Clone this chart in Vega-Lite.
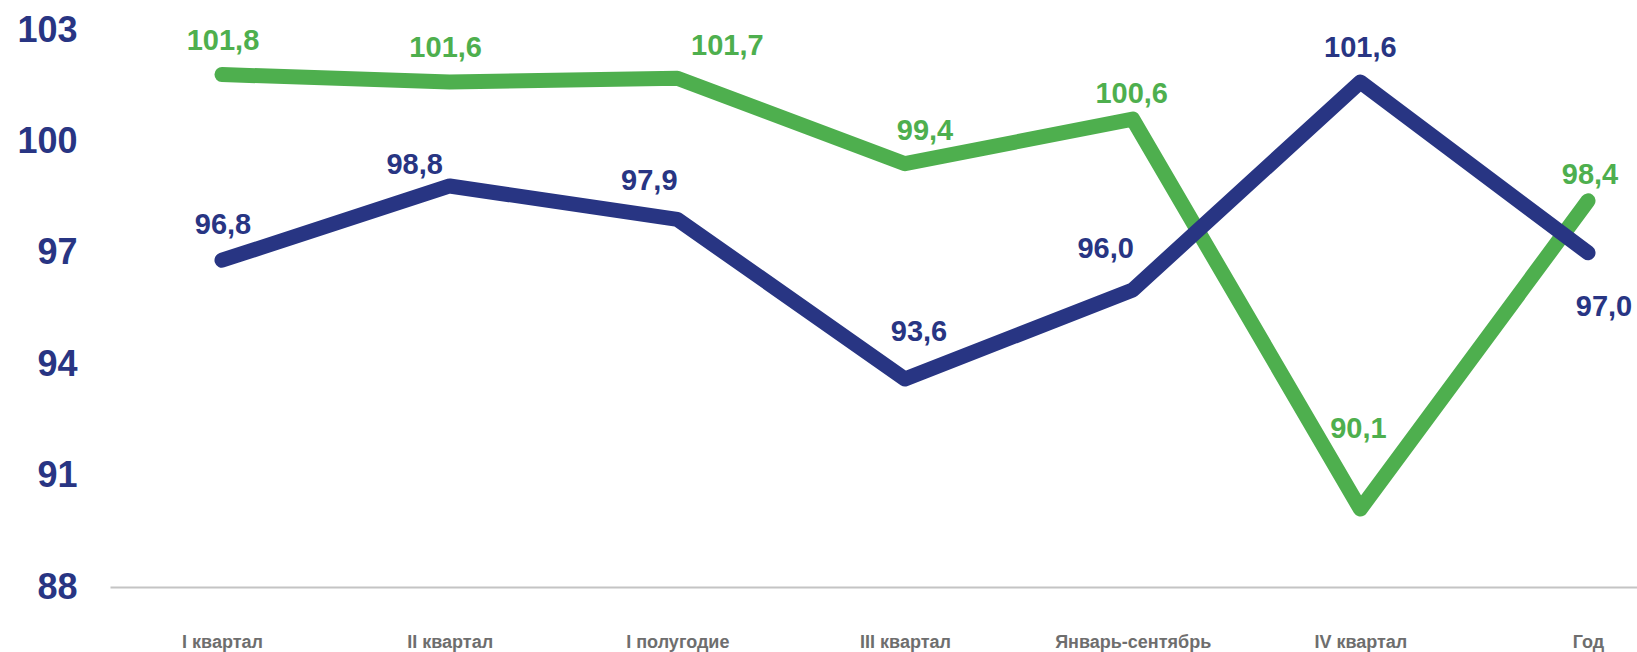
{
  "$schema": "https://vega.github.io/schema/vega-lite/v6.json",
  "width": 1527,
  "height": 557,
  "autosize": {"type": "none"},
  "padding": {"left": 110, "top": 30, "right": 0, "bottom": 65},
  "background": "white",
  "config": {"view": {"stroke": null}, "font": "Liberation Sans"},
  "data": {
    "values": [
      {"p": "I квартал", "s": "G", "v": 101.8},
      {"p": "II квартал", "s": "G", "v": 101.6},
      {"p": "I полугодие", "s": "G", "v": 101.7},
      {"p": "III квартал", "s": "G", "v": 99.4},
      {"p": "Январь-сентябрь", "s": "G", "v": 100.6},
      {"p": "IV квартал", "s": "G", "v": 90.1},
      {"p": "Год", "s": "G", "v": 98.4},
      {"p": "I квартал", "s": "B", "v": 96.8},
      {"p": "II квартал", "s": "B", "v": 98.8},
      {"p": "I полугодие", "s": "B", "v": 97.9},
      {"p": "III квартал", "s": "B", "v": 93.6},
      {"p": "Январь-сентябрь", "s": "B", "v": 96.0},
      {"p": "IV квартал", "s": "B", "v": 101.6},
      {"p": "Год", "s": "B", "v": 97.0}
    ]
  },
  "transform": [{"calculate": "replace(format(datum.v, '.1f'), '.', ',')", "as": "lbl"}],
  "encoding": {
    "x": {
      "field": "p",
      "type": "nominal",
      "sort": ["I квартал", "II квартал", "I полугодие", "III квартал", "Январь-сентябрь", "IV квартал", "Год"],
      "scale": {"type": "point", "padding": 0.3535, "align": 0.6957},
      "axis": {
        "title": null,
        "labelAngle": 0,
        "ticks": false,
        "tickSize": 0,
        "grid": false,
        "domain": true,
        "domainColor": "#c4c4c4",
        "domainWidth": 2,
        "labelFont": "Liberation Sans",
        "labelFontWeight": "bold",
        "labelFontSize": 18,
        "labelColor": "#6e6e6e",
        "labelBaseline": "alphabetic",
        "labelPadding": 60
      }
    },
    "y": {
      "field": "v",
      "type": "quantitative",
      "scale": {"domain": [88, 103], "nice": false, "zero": false},
      "axis": {
        "title": null,
        "values": [88, 91, 94, 97, 100, 103],
        "ticks": false,
        "tickSize": 0,
        "grid": false,
        "domain": false,
        "labelFont": "Liberation Sans",
        "labelFontWeight": "bold",
        "labelFontSize": 36,
        "labelColor": "#283583",
        "labelPadding": 33
      }
    },
    "color": {"field": "s", "type": "nominal", "scale": {"domain": ["G", "B"], "range": ["#4EAF4E", "#283583"]}, "legend": null}
  },
  "layer": [
    {"transform": [{"filter": "datum.s == 'G'"}], "mark": {"type": "line", "strokeWidth": 15, "strokeCap": "round", "strokeJoin": "round"}},
    {"transform": [{"filter": "datum.s == 'B'"}], "mark": {"type": "line", "strokeWidth": 15, "strokeCap": "round", "strokeJoin": "round"}},
    {"transform": [{"filter": "datum.s == 'G' && datum.p == 'I квартал'"}], "mark": {"type": "text", "fontSize": 29, "fontWeight": "bold", "baseline": "alphabetic", "align": "center", "dx": 1, "dy": -25}, "encoding": {"text": {"field": "lbl"}}},
    {"transform": [{"filter": "datum.s == 'G' && datum.p == 'II квартал'"}], "mark": {"type": "text", "fontSize": 29, "fontWeight": "bold", "baseline": "alphabetic", "align": "center", "dx": -4, "dy": -25}, "encoding": {"text": {"field": "lbl"}}},
    {"transform": [{"filter": "datum.s == 'G' && datum.p == 'I полугодие'"}], "mark": {"type": "text", "fontSize": 29, "fontWeight": "bold", "baseline": "alphabetic", "align": "center", "dx": 50, "dy": -23}, "encoding": {"text": {"field": "lbl"}}},
    {"transform": [{"filter": "datum.s == 'G' && datum.p == 'III квартал'"}], "mark": {"type": "text", "fontSize": 29, "fontWeight": "bold", "baseline": "alphabetic", "align": "center", "dx": 20, "dy": -24}, "encoding": {"text": {"field": "lbl"}}},
    {"transform": [{"filter": "datum.s == 'G' && datum.p == 'Январь-сентябрь'"}], "mark": {"type": "text", "fontSize": 29, "fontWeight": "bold", "baseline": "alphabetic", "align": "center", "dx": -1, "dy": -16}, "encoding": {"text": {"field": "lbl"}}},
    {"transform": [{"filter": "datum.s == 'G' && datum.p == 'IV квартал'"}], "mark": {"type": "text", "fontSize": 29, "fontWeight": "bold", "baseline": "alphabetic", "align": "center", "dx": -2, "dy": -71}, "encoding": {"text": {"field": "lbl"}}},
    {"transform": [{"filter": "datum.s == 'G' && datum.p == 'Год'"}], "mark": {"type": "text", "fontSize": 29, "fontWeight": "bold", "baseline": "alphabetic", "align": "center", "dx": 2, "dy": -17}, "encoding": {"text": {"field": "lbl"}}},
    {"transform": [{"filter": "datum.s == 'B' && datum.p == 'I квартал'"}], "mark": {"type": "text", "fontSize": 29, "fontWeight": "bold", "baseline": "alphabetic", "align": "center", "dx": 1, "dy": -26}, "encoding": {"text": {"field": "lbl"}}},
    {"transform": [{"filter": "datum.s == 'B' && datum.p == 'II квартал'"}], "mark": {"type": "text", "fontSize": 29, "fontWeight": "bold", "baseline": "alphabetic", "align": "center", "dx": -35, "dy": -12}, "encoding": {"text": {"field": "lbl"}}},
    {"transform": [{"filter": "datum.s == 'B' && datum.p == 'I полугодие'"}], "mark": {"type": "text", "fontSize": 29, "fontWeight": "bold", "baseline": "alphabetic", "align": "center", "dx": -28, "dy": -29}, "encoding": {"text": {"field": "lbl"}}},
    {"transform": [{"filter": "datum.s == 'B' && datum.p == 'III квартал'"}], "mark": {"type": "text", "fontSize": 29, "fontWeight": "bold", "baseline": "alphabetic", "align": "center", "dx": 14, "dy": -38}, "encoding": {"text": {"field": "lbl"}}},
    {"transform": [{"filter": "datum.s == 'B' && datum.p == 'Январь-сентябрь'"}], "mark": {"type": "text", "fontSize": 29, "fontWeight": "bold", "baseline": "alphabetic", "align": "center", "dx": -27, "dy": -32}, "encoding": {"text": {"field": "lbl"}}},
    {"transform": [{"filter": "datum.s == 'B' && datum.p == 'IV квартал'"}], "mark": {"type": "text", "fontSize": 29, "fontWeight": "bold", "baseline": "alphabetic", "align": "center", "dx": 0, "dy": -25}, "encoding": {"text": {"field": "lbl"}}},
    {"transform": [{"filter": "datum.s == 'B' && datum.p == 'Год'"}], "mark": {"type": "text", "fontSize": 29, "fontWeight": "bold", "baseline": "alphabetic", "align": "center", "dx": 16, "dy": 63}, "encoding": {"text": {"field": "lbl"}}}
  ]
}
